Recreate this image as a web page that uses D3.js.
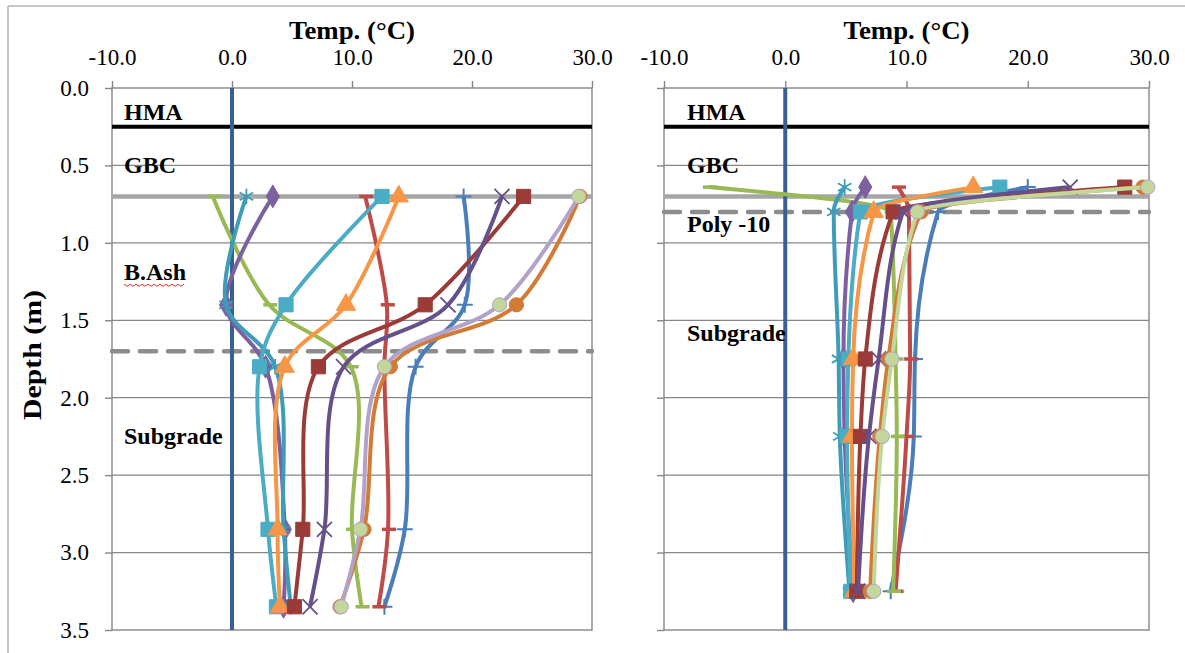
<!DOCTYPE html>
<html>
<head>
<meta charset="utf-8">
<script src="https://cdn.jsdelivr.net/npm/d3@7"></script>
<style>
  body { margin:0; background:#fff; }
  text { font-family:"Liberation Serif", "Times New Roman", serif; fill:#000; }
  .title { font-size:25px; font-weight:bold; }
  .layer { font-size:24px; font-weight:bold; }
</style>
</head>
<body>
<script>
/* temperature profiles, depth in m, temp in deg C */
var leftDepths  = [0.7, 1.4, 1.8, 2.85, 3.35];
var rightDepths = [0.64, 0.8, 1.75, 2.25, 3.25];

var xTicks = [-10, 0, 10, 20, 30];
var yTicks = [0, 0.5, 1.0, 1.5, 2.0, 2.5, 3.0, 3.5];

// one entry per logger series: colour, marker, left values, right values
var seriesNames   = ['s1','s2','s3','s4','s5','s6','s7','s8','s9','s11','s10'];
var seriesColors  = ['#4A7EBB','#BE4B48','#98B954','#7D60A0','#3D9DB8','#4BACC6','#F79646','#9B3B38','#66508A','#D27B35','#B3A2C7'];
var markerFills   = ['#4A7EBB','#BE4B48','#98B954','#7D60A0','#3D9DB8','#4BACC6','#F79646','#9B3B38','#66508A','#D27B35','#C3D69B'];
var seriesMarkers = ['plus','dash','dash','diamond','star','square','triangle','square','x','circle','circle'];
var leftTemps = [
  [19.3, 19.4, 15.3, 14.4, 12.7],
  [11.1, 12.9, 12.7, 13.0, 12.2],
  [-1.6, 3.1, 9.9, 10.0, 10.8],
  [3.4, -0.5, 2.8, 4.4, 4.3],
  [1.2, -0.5, 3.6, 4.3, 4.9],
  [12.5, 4.5, 2.3, 3.0, 3.7],
  [13.9, 9.5, 4.4, 3.8, 4.0],
  [24.3, 16.1, 7.2, 5.9, 5.2],
  [22.5, 18.0, 9.3, 7.7, 6.5],
  [29.0, 23.7, 13.2, 11.0, 9.0],
  [28.9, 22.3, 12.7, 10.7, 9.1]
];
var rightTemps = [
  [20.0, 12.6, 10.7, 10.6, 8.7],
  [9.3, 10.2, 10.3, 10.0, 9.1],
  [-6.3, 8.7, 9.1, 9.2, 8.9],
  [6.6, 5.5, 4.8, 4.9, 5.6],
  [4.9, 4.0, 4.4, 4.5, 5.3],
  [17.7, 6.2, 5.2, 5.1, 5.4],
  [15.5, 7.3, 5.6, 5.5, 5.7],
  [28.0, 8.9, 6.6, 6.2, 5.9],
  [23.5, 9.7, 7.7, 6.9, 6.0],
  [29.5, 11.2, 8.5, 7.8, 7.0],
  [29.9, 10.9, 8.8, 8.0, 7.3]
];
// right panel circle series drawn with a light green line
var rightLineColors = seriesColors.slice(0,10).concat(['#C3D69B']);

// layer names (depth of label centre) and boundaries
var leftLayers  = [{name:'HMA', d:0.155}, {name:'GBC', d:0.5}, {name:'B.Ash', d:1.19}, {name:'Subgrade', d:2.25}];
var rightLayers = [{name:'HMA', d:0.155}, {name:'GBC', d:0.5}, {name:'Poly -10', d:0.88}, {name:'Subgrade', d:1.58}];
var leftBounds  = [{d:0.25, type:'hma'}, {d:0.7, type:'solid'}, {d:1.7, type:'dash'}];
var rightBounds = [{d:0.25, type:'hma'}, {d:0.7, type:'solid'}, {d:0.8, type:'dash'}];

var width = 1185, height = 653;
var svg = d3.select('body').append('svg')
    .attr('width', width)
    .attr('height', height);

// outer frame
svg.append('line').attr('x1',8).attr('x2',width).attr('y1',6).attr('y2',6)
    .style('stroke','#b5b5b5').style('stroke-width',1.5);
svg.append('line').attr('x1',8).attr('x2',8).attr('y1',6).attr('y2',height)
    .style('stroke','#b5b5b5').style('stroke-width',1.5);

drawPanel({l:112, r:592, t:88, b:630, yLabels:true, depths:leftDepths, temps:leftTemps,
    layers:leftLayers, bounds:leftBounds, labelX:124, colors:seriesColors,
    curve:d3.curveCatmullRom.alpha(0.5)});
drawPanel({l:664, r:1149, t:88, b:630, yLabels:false, depths:rightDepths, temps:rightTemps,
    layers:rightLayers, bounds:rightBounds, labelX:687, colors:rightLineColors,
    curve:d3.curveMonotoneY});

function fmt(v){ return d3.format('.1f')(v).replace('\u2212','-'); }

function drawPanel(p){
    var x = d3.scaleLinear().domain([-10,30]).range([p.l,p.r]);
    var y = d3.scaleLinear().domain([0,3.5]).range([p.t,p.b]);
    var g = svg.append('g');

    // horizontal gridlines
    yTicks.forEach(function(v){
        if(v===0 || v===3.5) return;
        g.append('line')
            .attr('x1',p.l).attr('x2',p.r)
            .attr('y1',y(v)).attr('y2',y(v))
            .style('stroke','#868686').style('stroke-width',1.3);
    });
    // plot border
    g.append('rect')
        .attr('x',p.l).attr('y',p.t)
        .attr('width',p.r-p.l).attr('height',p.b-p.t)
        .style('fill','none').style('stroke','#868686').style('stroke-width',1.4);

    // top axis
    var xAxis = d3.axisTop(x).tickValues(xTicks).tickSize(7).tickFormat(fmt);
    var ax = g.append('g').attr('transform','translate(0,'+p.t+')').call(xAxis);
    ax.select('.domain').remove();
    ax.selectAll('line').style('stroke','#868686').style('stroke-width',1.4);
    ax.selectAll('text').attr('y',-23)
        .style('font-family','"Liberation Serif", serif').style('font-size','23px').attr('fill','#000');

    // left axis
    var yAxis = d3.axisLeft(y).tickValues(yTicks).tickSize(7)
        .tickFormat(p.yLabels ? fmt : '');
    var ay = g.append('g').attr('transform','translate('+p.l+',0)').call(yAxis);
    ay.select('.domain').remove();
    ay.selectAll('line').style('stroke','#868686').style('stroke-width',1.4);
    ay.selectAll('text').attr('x',-23)
        .style('font-family','"Liberation Serif", serif').style('font-size','23px').attr('fill','#000');

    g.append('text').attr('class','title')
        .attr('x',(p.l+p.r)/2).attr('y',39)
        .attr('text-anchor','middle')
        .attr('textLength',126).attr('lengthAdjust','spacingAndGlyphs')
        .text('Temp. (°C)');

    if(p.yLabels){
        g.append('text').attr('class','title')
            .attr('transform','translate(41,355) rotate(-90)')
            .attr('text-anchor','middle')
            .attr('textLength',130).attr('lengthAdjust','spacingAndGlyphs')
            .text('Depth (m)');
    }

    // layer boundaries
    p.bounds.forEach(function(b){
        var ln = g.append('line')
            .attr('x1',p.l).attr('x2',p.r)
            .attr('y1',y(b.d)).attr('y2',y(b.d));
        if(b.type==='hma') ln.style('stroke','#000').style('stroke-width',4);
        if(b.type==='solid') ln.style('stroke','#a6a6a6').style('stroke-width',4.5);
        if(b.type==='dash') ln.style('stroke','#8c8c8c').style('stroke-width',4.5)
            .style('stroke-dasharray','16,12').style('stroke-linecap','round');
    });

    // zero line
    g.append('line')
        .attr('x1',x(0)).attr('x2',x(0))
        .attr('y1',p.t).attr('y2',p.b)
        .style('stroke','#3A5F92').style('stroke-width',4);

    // layer names
    p.layers.forEach(function(l){
        var t = g.append('text').attr('class','layer')
            .attr('x',p.labelX).attr('y',y(l.d)+8)
            .text(l.name);
        if(l.name==='B.Ash'){
            var w = t.node().getComputedTextLength();
            var pts = [];
            for(var i=0;i<=w;i+=3){ pts.push([p.labelX+i, y(l.d)+12+(i/3%2?2:0)]); }
            g.append('path').attr('d',d3.line()(pts))
                .style('fill','none').style('stroke','#e03030').style('stroke-width',1);
        }
    });

    // series
    var line = d3.line()
        .x(function(d){ return x(d[0]); })
        .y(function(d){ return y(d[1]); })
        .curve(p.curve);

    p.temps.forEach(function(vals,i){
        var pts = vals.map(function(v,j){ return [v, p.depths[j]]; });
        g.append('path').datum(pts)
            .attr('class','series '+seriesNames[i])
            .attr('d',line)
            .style('fill','none')
            .style('stroke',p.colors[i])
            .style('stroke-width',4)
            .style('stroke-linejoin','round');
        pts.forEach(function(pt){
            drawMarker(g, x(pt[0]), y(pt[1]), seriesMarkers[i], seriesColors[i], markerFills[i]);
        });
    });
}

function drawMarker(g, cx, cy, type, col, fill){
    var m = g.append('g').attr('transform','translate('+cx+','+cy+')');
    if(type==='plus'){
        m.append('path').attr('d','M-8,0H8M0,-8V8').style('stroke',col).style('stroke-width',2);
    } else if(type==='dash'){
        m.append('path').attr('d','M-6,0H8').style('stroke',col).style('stroke-width',3.5);
    } else if(type==='x'){
        m.append('path').attr('d',d3.symbol(d3.symbolTimes,150)()).style('fill','none').style('stroke',col).style('stroke-width',1.8);
    } else if(type==='star'){
        m.append('path').attr('d',d3.symbol(d3.symbolAsterisk,170)()).style('fill','none').style('stroke',col).style('stroke-width',1.8);
    } else {
        var sym = {diamond:d3.symbolDiamond, square:d3.symbolSquare, triangle:d3.symbolTriangle, circle:d3.symbolCircle}[type];
        var size = {diamond:150, square:200, triangle:160, circle:160}[type];
        m.append('path').attr('d',d3.symbol(sym,size)())
            .style('fill',fill)
            .style('stroke',fill==='#C3D69B' ? '#B3A2C7' : col)
            .style('stroke-width',1);
    }
}
</script>
</body>
</html>
